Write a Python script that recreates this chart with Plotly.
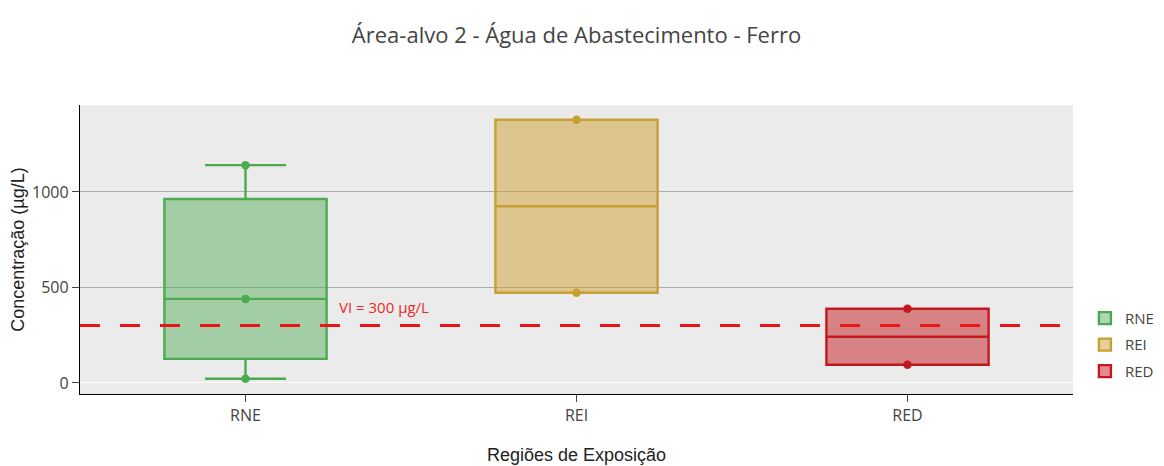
import plotly.graph_objects as go

categories = ["RNE", "REI", "RED"]
# sample points shown on each box
rne_points = [22, 440, 1140]
rei_points = [472, 1378]
red_points = [95, 388]
# box statistics
q1_values = [126, 472, 95]
median_values = [440, 925, 242]
q3_values = [963, 1378, 388]
lower_fences = [22, 472, 95]
upper_fences = [1140, 1378, 388]
vi_value = 300
vi_label = "VI = 300 µg/L"

line_colors = ["rgb(76,170,80)", "rgb(200,160,50)", "rgb(195,25,30)"]
fill_colors = ["rgba(76,170,80,0.45)", "rgba(205,160,50,0.5)", "rgba(195,25,30,0.5)"]
points = [rne_points, rei_points, red_points]

fig = go.Figure()
for i, name in enumerate(categories):
    fig.add_trace(go.Box(
        x=[name], name=name, legendgroup=name,
        q1=[q1_values[i]], median=[median_values[i]], q3=[q3_values[i]],
        lowerfence=[lower_fences[i]], upperfence=[upper_fences[i]],
        boxpoints=False, width=0.49, whiskerwidth=0.5,
        line=dict(color=line_colors[i], width=2.4), fillcolor=fill_colors[i],
    ))
for i, name in enumerate(categories):
    fig.add_trace(go.Scatter(
        x=[name] * len(points[i]), y=points[i], mode="markers", showlegend=False,
        legendgroup=name, marker=dict(color=line_colors[i], size=8.5), hoverinfo="y",
    ))

fig.add_shape(type="line", xref="paper", x0=0, x1=1, yref="y", y0=vi_value, y1=vi_value,
              line=dict(color="rgb(235,20,25)", width=3, dash="20px,20px"), layer="above")
fig.add_annotation(x=0.259, xref="paper", xanchor="left", y=vi_value + 100, yref="y",
                   yanchor="middle", text=vi_label, showarrow=False,
                   font=dict(color="rgb(235,40,40)", size=15, family="Open Sans"))

fig.update_layout(
    width=1164, height=466,
    margin=dict(l=72, r=99, t=97, b=80),
    title=dict(text="Área-alvo 2 - Água de Abastecimento - Ferro", x=0.5, xref="paper", xanchor="center",
               y=0.942, yref="container", yanchor="middle",
               font=dict(size=22, family="Open Sans", color="#444")),
    plot_bgcolor="#ebebeb", paper_bgcolor="white",
    font=dict(family="Open Sans", size=16, color="#444"),
    boxmode="overlay",
    legend=dict(x=1.012, xanchor="left", y=0.17, yanchor="middle",
                tracegroupgap=4, font=dict(size=15)),
    xaxis=dict(title=dict(text="Regiões de Exposição", font=dict(family="Liberation Sans", size=18, color="#222"),
                          standoff=22),
               categoryorder="array", categoryarray=categories, range=[-0.5, 2.5],
               showline=True, linecolor="black", linewidth=1.4, ticks="outside", ticklen=7,
               tickcolor="#444", tickfont=dict(size=16), showgrid=False, automargin=False),
    yaxis=dict(title=dict(text="Concentração (µg/L)", font=dict(family="Liberation Sans", size=18, color="#222"),
                          standoff=7),
               range=[-58, 1455], tickvals=[0, 500, 1000],
               showline=True, linecolor="black", linewidth=1.4, ticks="outside", ticklen=7,
               tickcolor="#444", tickfont=dict(size=16), gridcolor="#aaaaaa", gridwidth=1.4,
               zeroline=True, zerolinecolor="white", zerolinewidth=1.4, automargin=False),
)

fig.write_html("out.html")
